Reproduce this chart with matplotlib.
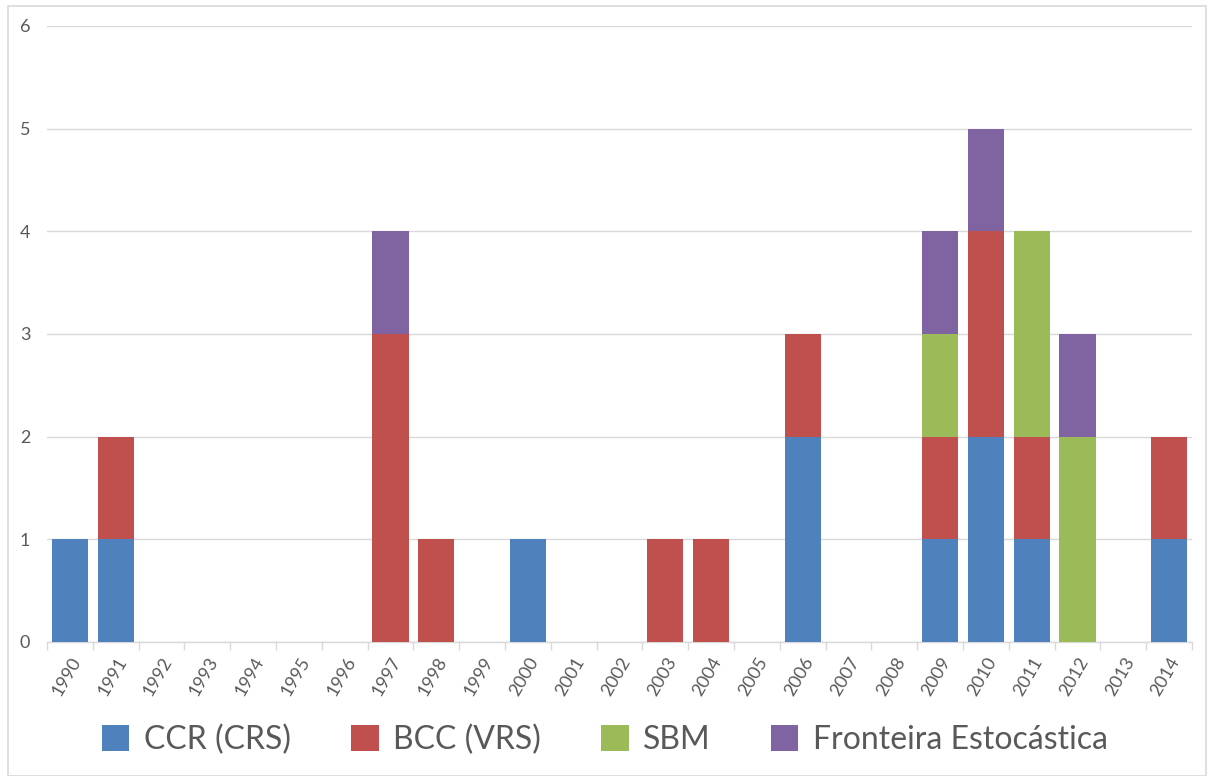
import matplotlib
matplotlib.use("Agg")
import matplotlib.pyplot as plt
from matplotlib.patches import Rectangle
import numpy as np

years = [str(y) for y in range(1990, 2015)]
ccr = [1, 1, 0, 0, 0, 0, 0, 0, 0, 0, 1, 0, 0, 0, 0, 0, 2, 0, 0, 1, 2, 1, 0, 0, 1]
bcc = [0, 1, 0, 0, 0, 0, 0, 3, 1, 0, 0, 0, 0, 1, 1, 0, 1, 0, 0, 1, 2, 1, 0, 0, 1]
sbm = [0, 0, 0, 0, 0, 0, 0, 0, 0, 0, 0, 0, 0, 0, 0, 0, 0, 0, 0, 1, 0, 2, 2, 0, 0]
fe = [0, 0, 0, 0, 0, 0, 0, 1, 0, 0, 0, 0, 0, 0, 0, 0, 0, 0, 0, 1, 1, 0, 1, 0, 0]
series_names = ["CCR (CRS)", "BCC (VRS)", "SBM", "Fronteira Estocástica"]
colors = ["#4F81BD", "#C0504D", "#9BBB59", "#8064A2"]

plt.rcParams["font.family"] = ["Lato", "DejaVu Sans"]
text_color = "#595959"

fig = plt.figure(figsize=(12.10, 7.76), dpi=100)
ax = fig.add_axes([47 / 1210, 1 - 642 / 776, (1192 - 47) / 1210, (642 - 26) / 776])

x = np.arange(len(years))
bottom = np.zeros(len(years))
handles = []
for vals, name, col in zip([ccr, bcc, sbm, fe], series_names, colors):
    vals = np.array(vals, dtype=float)
    b = ax.bar(x, vals, bottom=bottom, width=0.79, color=col, label=name, zorder=3)
    handles.append(b)
    bottom += vals

ax.set_xlim(-0.5, len(years) - 0.5)
ax.set_ylim(0, 6)
ax.set_yticks(range(0, 7))
ax.yaxis.grid(True, color="#D9D9D9", linewidth=1.0, zorder=0)
ax.tick_params(axis="y", length=0, labelsize=13, labelcolor=text_color, pad=12)

ax.set_xticks(x)
ax.set_xticklabels(years, rotation=60, ha="right", va="top", rotation_mode="anchor",
                   fontsize=13, color=text_color)
ax.tick_params(axis="x", which="major", length=0, pad=9)
ax.set_xticks(np.arange(-0.5, len(years)), minor=True)
ax.tick_params(axis="x", which="minor", length=6, color="#D9D9D9", width=1)

for side in ["top", "right", "left"]:
    ax.spines[side].set_visible(False)
ax.spines["bottom"].set_color("#D9D9D9")
ax.spines["bottom"].set_linewidth(1.0)

fig.legend(handles=handles, labels=series_names, loc="center", bbox_to_anchor=(0.5, 1 - 740 / 776),
           ncol=4, frameon=False, fontsize=23, labelcolor=text_color,
           handlelength=0.85, handleheight=0.85, handletextpad=0.45, columnspacing=1.9)

fig.patches.append(Rectangle((8 / 1210, 0), 1198 / 1210, 1 - 6 / 776, transform=fig.transFigure,
                             fill=False, edgecolor="#D9D9D9", linewidth=1.2))

fig.savefig("out.png", dpi=100)
